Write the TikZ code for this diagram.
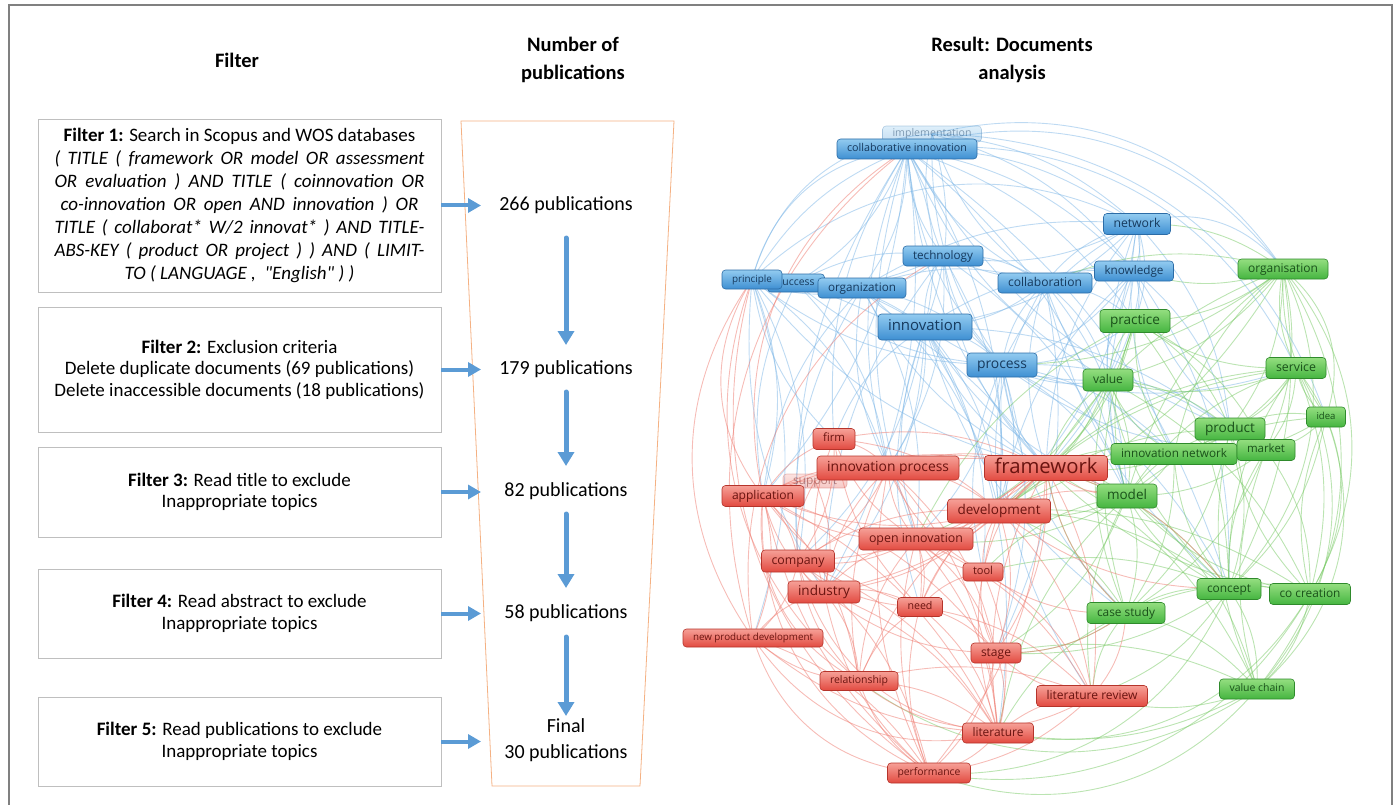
\documentclass[tikz,border=0pt]{standalone}
\usepackage{fontspec}
\usepackage{graphicx}
\setmainfont{Carlito}
\newfontfamily\qfont{Carlito}
\newfontfamily\vosfont{Open Sans}
\usetikzlibrary{arrows.meta}
\pgfdeclarelayer{background}
\pgfsetlayers{background,main}
\definecolor{arrblue}{HTML}{5B9BD5}
\definecolor{boxgray}{HTML}{BFBFBF}
\definecolor{framegray}{HTML}{808080}
\definecolor{funnelor}{HTML}{F4B183}
\definecolor{blueT}{HTML}{92CBF0}
\definecolor{blueM}{HTML}{3E8FD2}
\definecolor{blueD}{HTML}{2C6CA6}
\definecolor{blueTx}{HTML}{163A5E}
\definecolor{greenT}{HTML}{94DE80}
\definecolor{greenM}{HTML}{45B540}
\definecolor{greenD}{HTML}{2F8A2C}
\definecolor{greenTx}{HTML}{1A521A}
\definecolor{redT}{HTML}{F6A097}
\definecolor{redM}{HTML}{E24A40}
\definecolor{redD}{HTML}{B5342B}
\definecolor{redTx}{HTML}{6A1410}
\definecolor{blueE}{HTML}{7DB6E6}
\definecolor{greenE}{HTML}{78C965}
\definecolor{redE}{HTML}{EE7A6F}
\newcommand\vn[7]{\node[#6,minimum width=#4,minimum height=#5] (#1) at (#2,#3) {\resizebox{\dimexpr#4pt-20pt\relax}{!}{\vphantom{Alp}#7}};}
\tikzset{
  head/.style={font=\fontsize{20.5}{28.5}\selectfont\bfseries, align=center, inner sep=0pt},
  fbox/.style={draw=boxgray, line width=0.8pt, align=center, inner sep=0pt, minimum width=403, font=\fontsize{19}{21.5}\selectfont},
  num/.style={font=\fontsize{20}{26}\selectfont, align=center, inner sep=0pt},
  harrow/.style={draw=arrblue, line width=4pt, -{Triangle[length=13pt,width=14pt]}},
  varrow/.style={draw=arrblue, line width=5pt, line cap=round, -{Triangle[length=14pt,width=16pt]}},
  vbase/.style={rounded corners=3.5pt, line width=0.6pt, inner sep=0pt, font=\vosfont},
  vb/.style={vbase, draw=blueD, top color=blueT, bottom color=blueM, text=blueTx},
  vg/.style={vbase, draw=greenD, top color=greenT, bottom color=greenM, text=greenTx},
  vr/.style={vbase, draw=redD, top color=redT, bottom color=redM, text=redTx},
  faint/.style={opacity=0.3, text opacity=0.45},
  be/.style={draw=blueE, line width=0.9pt, opacity=0.5},
  ge/.style={draw=greenE, line width=0.9pt, opacity=0.5},
  re/.style={draw=redE, line width=0.9pt, opacity=0.5},
}
\begin{document}
\begin{tikzpicture}[x=1pt,y=-1pt]
\useasboundingbox (0,0) rectangle (1397,805);
\draw[framegray, line width=1.2pt] (9,805) -- (9,5) -- (1392,5) -- (1392,805);

% headers
\node[head] (h1) at (237,60) {Filter};
\node[head] (h2) at (573,60) {Number of\\publications};
\node[head] (h3) at (1012,60) {Result: Documents\\analysis};

% filter boxes
\node[fbox, minimum height=173, font=\fontsize{19}{23}\selectfont] (f1) at (239.5,205.5) {%
{\bfseries Filter 1:} Search in Scopus and WOS databases\\
\makebox[370pt][s]{\itshape ( TITLE ( framework OR model OR assessment}\\
\makebox[370pt][s]{\itshape OR evaluation ) AND TITLE ( coinnovation OR}\\
\makebox[358pt][s]{\itshape co-innovation OR open AND innovation ) OR}\\
\makebox[370pt][s]{\itshape TITLE ( collaborat* W/2 innovat* ) AND TITLE-}\\
\makebox[370pt][s]{\itshape ABS-KEY ( product OR project ) ) AND ( LIMIT-}\\
{\qfont\itshape TO ( LANGUAGE ,\ \ "English" ) )}};
\node[fbox, minimum height=125] (f2) at (239.5,369.5) {{\bfseries Filter 2:} Exclusion criteria\\Delete duplicate documents (69 publications)\\Delete inaccessible documents (18 publications)};
\node[fbox, minimum height=90] (f3) at (239.5,492) {{\bfseries Filter 3:} Read title to exclude\\Inappropriate topics};
\node[fbox, minimum height=89] (f4) at (239.5,613.5) {{\bfseries Filter 4:} Read abstract to exclude\\Inappropriate topics};
\node[fbox, minimum height=89] (f5) at (239.5,741.5) {{\bfseries Filter 5:} Read publications to exclude\\Inappropriate topics};

% funnel
\coordinate (ftl) at (461,121);
\coordinate (ftr) at (674,121);
\coordinate (fbr) at (640,786);
\coordinate (fbl) at (492,786);
\draw[funnelor, line width=0.8pt] (ftl) -- (ftr) -- (fbr) -- (fbl) -- cycle;

\node[num] (n1) at (566,205) {266 publications};
\node[num] (n2) at (566,369) {179 publications};
\node[num] (n3) at (566,491) {82 publications};
\node[num] (n4) at (566,613) {58 publications};
\node[num] (n5) at (566,740) {Final\\30 publications};

\coordinate (tipx) at (481,0);
\foreach \k in {1,...,5} {\draw[harrow] (f\k.east) -- (f\k.east -| tipx);}
\draw[varrow, shorten <=33pt, shorten >=24pt] (n1.center) -- (n2.center);
\draw[varrow, shorten <=23pt, shorten >=25pt] (n2.center) -- (n3.center);
\draw[varrow, shorten <=23pt, shorten >=25pt] (n3.center) -- (n4.center);
\draw[varrow, shorten <=24pt, shorten >=24pt] (n4.center) -- (n5.center);

% ===== network nodes =====
\vn{impl}{932}{134}{99}{16}{vb,faint}{implementation}
\vn{support}{815}{481}{64}{14}{vr,faint}{support}
\vn{ci}{907}{149}{140}{20}{vb}{collaborative innovation}
\vn{network}{1137}{224}{67}{21}{vb}{network}
\vn{technology}{943}{256}{80}{20}{vb}{technology}
\vn{knowledge}{1134}{271}{79}{20}{vb}{knowledge}
\vn{success}{796}{283}{57}{18}{vb}{success}
\vn{principle}{752}{279.5}{60}{19}{vb}{principle}
\vn{organization}{862}{288}{88}{20}{vb}{organization}
\vn{collaboration}{1045}{283}{94}{20}{vb}{collaboration}
\vn{innovation}{925}{327}{94}{26}{vb}{innovation}
\vn{process}{1002}{365}{70}{24}{vb}{process}

\vn{organisation}{1283}{269}{90}{20}{vg}{organisation}
\vn{practice}{1135}{321}{70}{23}{vg}{practice}
\vn{service}{1296}{368}{60}{21}{vg}{service}
\vn{value}{1108}{380}{50}{22}{vg}{value}
\vn{idea}{1326}{417}{39}{20}{vg}{idea}
\vn{product}{1230}{429}{70}{22}{vg}{product}
\vn{innet}{1174}{454}{126}{21}{vg}{innovation network}
\vn{market}{1266}{450}{58}{21}{vg}{market}
\vn{model}{1127}{496}{60}{24}{vg}{model}
\vn{concept}{1229}{589}{64}{21}{vg}{concept}
\vn{cocreation}{1310}{594}{81}{21}{vg}{co creation}
\vn{casestudy}{1126}{613}{78}{21}{vg}{case study}
\vn{valuechain}{1257}{689}{75}{20}{vg}{value chain}

\vn{firm}{834}{439}{42}{21}{vr}{firm}
\vn{inproc}{888}{468}{142}{24}{vr}{innovation process}
\vn{framework}{1046}{468}{123}{25}{vr}{framework}
\vn{application}{763}{496}{82}{21}{vr}{application}
\vn{development}{999}{511}{103}{24}{vr}{development}
\vn{openinn}{916}{539}{114}{22}{vr}{open innovation}
\vn{company}{798}{561}{73}{22}{vr}{company}
\vn{tool}{983}{572}{40}{18}{vr}{tool}
\vn{industry}{824}{592}{72}{22}{vr}{industry}
\vn{need}{920}{607}{45}{19}{vr}{need}
\vn{npd}{753}{638}{140}{18}{vr}{new product development}
\vn{stage}{996}{653}{50}{20}{vr}{stage}
\vn{relationship}{859}{681}{78}{19}{vr}{relationship}
\vn{litrev}{1092}{696}{111}{21}{vr}{literature review}
\vn{literature}{998}{733}{71}{20}{vr}{literature}
\vn{performance}{929}{773}{83}{20}{vr}{performance}

% ===== network links =====
\begin{pgfonlayer}{background}
\foreach \a/\b [count=\i] in {ci/network, ci/technology, ci/knowledge, ci/principle, ci/organization, ci/collaboration, ci/innovation, ci/process, ci/practice, ci/framework, ci/development, ci/openinn, ci/model, ci/inproc, ci/concept, ci/product, ci/industry, ci/firm, ci/success, ci/value, ci/application, ci/company,
impl/network, impl/technology, impl/innovation, impl/collaboration, impl/knowledge, impl/process,
network/knowledge, network/collaboration, network/practice, network/process, network/innovation, network/framework, network/product, network/model, network/value, network/innet, network/technology, network/organization, network/development,
technology/innovation, technology/organization, technology/process, technology/collaboration, technology/framework, technology/development, technology/industry, technology/model, technology/knowledge, technology/principle, technology/success, technology/inproc,
knowledge/collaboration, knowledge/practice, knowledge/innovation, knowledge/process, knowledge/value, knowledge/framework, knowledge/model, knowledge/product, knowledge/market, knowledge/concept, knowledge/development,
principle/success, principle/organization, principle/innovation, principle/process, principle/application, principle/framework, principle/company, principle/industry, principle/inproc, principle/firm, principle/npd,
success/organization, success/innovation, success/process, success/framework, success/application, success/inproc,
organization/innovation, organization/process, organization/framework, organization/development, organization/application, organization/openinn, organization/company, organization/collaboration, organization/inproc,
collaboration/innovation, collaboration/process, collaboration/practice, collaboration/framework, collaboration/model, collaboration/development, collaboration/value, collaboration/concept, collaboration/stage, collaboration/innet,
innovation/process, innovation/framework, innovation/development, innovation/openinn, innovation/inproc, innovation/model, innovation/product, innovation/firm, innovation/industry, innovation/need, innovation/tool, innovation/casestudy, innovation/literature, innovation/value, innovation/company,
process/framework, process/development, process/value, process/model, process/practice, process/product, process/tool, process/stage, process/litrev, process/concept, process/market, process/innet, process/service, process/openinn, process/casestudy}
{\ifodd\i\def\ang{18}\else\def\ang{-18}\fi
 \draw[be] (\a.center) to[bend left=\ang] (\b.center);}

\foreach \a/\b [count=\i] in {organisation/practice, organisation/service, organisation/product, organisation/idea, organisation/market, organisation/model, organisation/concept, organisation/innet, organisation/value, organisation/framework, organisation/development, organisation/network, organisation/knowledge, organisation/collaboration, organisation/process,
practice/value, practice/product, practice/model, practice/framework, practice/service, practice/concept, practice/innet, practice/development, practice/casestudy, practice/market, practice/openinn,
service/product, service/idea, service/market, service/concept, service/cocreation, service/model, service/innet, service/framework, service/value, service/development,
value/model, value/framework, value/product, value/concept, value/development, value/casestudy, value/cocreation, value/innet, value/openinn,
idea/product, idea/market, idea/cocreation, idea/concept, idea/model, idea/innet,
product/market, product/innet, product/model, product/concept, product/cocreation, product/framework, product/valuechain, product/casestudy, product/development,
innet/model, innet/framework, innet/market, innet/concept, innet/casestudy, innet/development,
market/model, market/concept, market/cocreation, market/valuechain, market/casestudy,
model/concept, model/casestudy, model/framework, model/development, model/cocreation, model/valuechain, model/litrev, model/stage, model/tool, model/openinn, model/literature,
concept/cocreation, concept/casestudy, concept/valuechain, concept/framework, concept/litrev, concept/development, concept/stage, concept/tool,
cocreation/valuechain, cocreation/casestudy, cocreation/framework, cocreation/development,
casestudy/valuechain, casestudy/litrev, casestudy/framework, casestudy/development, casestudy/stage, casestudy/literature,
valuechain/litrev, valuechain/framework, valuechain/literature, valuechain/stage}
{\ifodd\i\def\ang{18}\else\def\ang{-18}\fi
 \draw[ge] (\a.center) to[bend left=\ang] (\b.center);}

\foreach \a/\b [count=\i] in {firm/inproc, firm/application, firm/framework, firm/openinn, firm/company, firm/industry, firm/development, firm/need,
inproc/framework, inproc/application, inproc/development, inproc/openinn, inproc/company, inproc/industry, inproc/need, inproc/tool, inproc/stage, inproc/relationship, inproc/literature, inproc/performance, inproc/model,
framework/development, framework/openinn, framework/tool, framework/stage, framework/literature, framework/litrev, framework/need, framework/industry, framework/application, framework/performance, framework/relationship, framework/company, framework/model, framework/concept, framework/casestudy,
application/company, application/industry, application/npd, application/openinn, application/relationship, application/performance, application/literature, application/need, application/stage, application/development,
development/openinn, development/tool, development/stage, development/literature, development/litrev, development/need, development/industry, development/company, development/model, development/concept,
openinn/company, openinn/industry, openinn/need, openinn/tool, openinn/stage, openinn/relationship, openinn/literature, openinn/performance, openinn/litrev,
company/industry, company/npd, company/relationship, company/performance, company/need, company/literature,
tool/stage, tool/literature, tool/need, tool/litrev, tool/casestudy,
industry/need, industry/npd, industry/relationship, industry/performance, industry/literature, industry/stage,
need/stage, need/relationship, need/literature, need/performance, need/litrev,
npd/relationship, npd/performance, npd/literature,
stage/literature, stage/litrev, stage/performance, stage/casestudy,
relationship/literature, relationship/performance, relationship/litrev,
litrev/literature, litrev/performance, litrev/casestudy,
literature/performance,
support/application, support/inproc, support/company, support/industry}
{\ifodd\i\def\ang{18}\else\def\ang{-18}\fi
 \draw[re] (\a.center) to[bend left=\ang] (\b.center);}

% outer arcs (clockwise pairs)
\foreach \a/\b/\c in {ci/organisation/be, ci/service/be, impl/organisation/be, network/organisation/be, impl/idea/be,
organisation/valuechain/ge, organisation/cocreation/ge, service/valuechain/ge, idea/valuechain/ge, organisation/idea/ge, organisation/concept/ge, service/cocreation/ge,
valuechain/performance/ge, cocreation/performance/ge, cocreation/literature/ge, valuechain/relationship/ge, concept/performance/ge,
performance/application/re, literature/npd/re, performance/npd/re, relationship/application/re, litrev/relationship/re,
performance/principle/re, relationship/principle/re, npd/principle/re, literature/company/re,
principle/ci/be, application/ci/re, npd/technology/re, principle/impl/be, application/principle/re, principle/network/be, npd/ci/re}
{\draw[\c] (\a.center) to[bend left=35] (\b.center);}
\end{pgfonlayer}
\end{tikzpicture}
\end{document}
